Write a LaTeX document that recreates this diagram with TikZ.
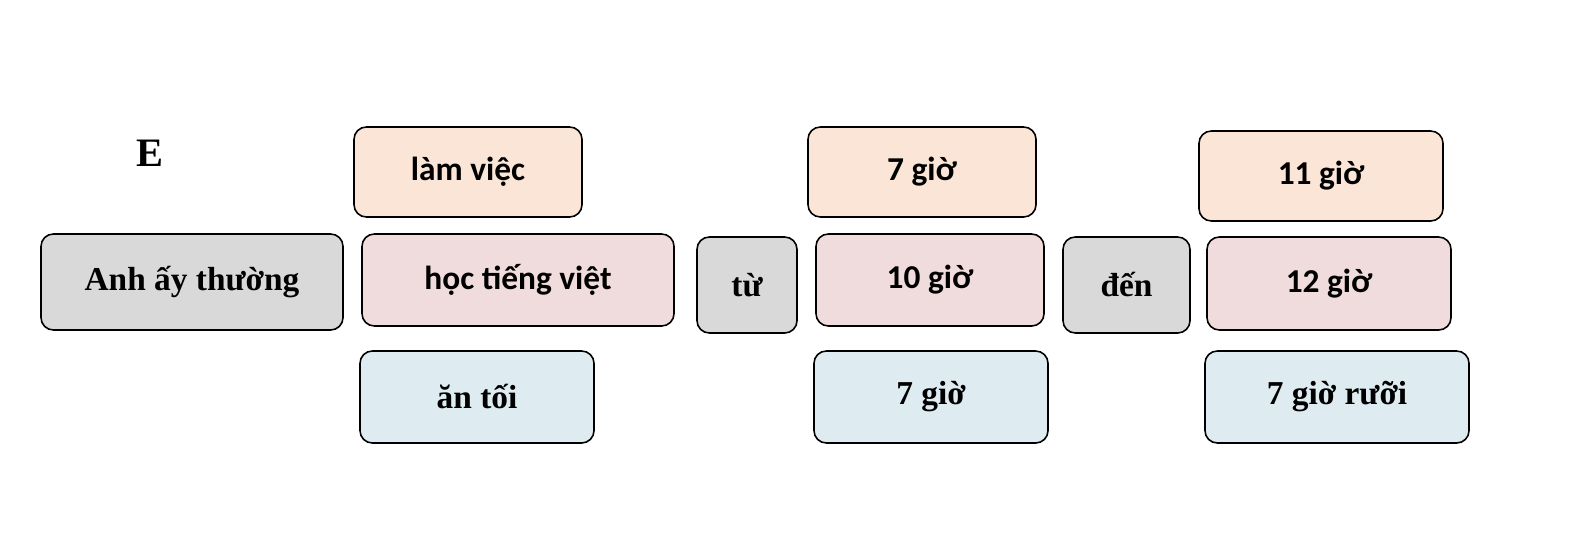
\documentclass[tikz,border=0pt]{standalone}
\usepackage{fontspec}
\setmainfont{Liberation Serif}
\newfontfamily\cali{Carlito}
\usetikzlibrary{positioning}
\definecolor{peach}{HTML}{FBE5D6}
\definecolor{rose}{HTML}{F0DCDC}
\definecolor{sky}{HTML}{DEEBF0}
\definecolor{greybox}{HTML}{D9D9D9}
\tikzset{
  cell/.style={draw=black, rounded corners=7pt, line width=0.9pt, inner sep=0pt},
  serifb/.style={font=\fontsize{19}{22}\selectfont\bfseries},
  sansb/.style={font=\cali\fontsize{19}{22}\selectfont\bfseries}
}
\begin{document}
\begin{tikzpicture}[x=0.02cm,y=-0.02cm]
    \useasboundingbox (0,0) rectangle (1574,554);

    \node[font=\fontsize{23}{26}\selectfont\bfseries] (lbl) at (150,153) {E};

    \foreach \nm/\xa/\ya/\xb/\yb/\col/\sty/\txt in {
      subj/41/234/343/330/greybox/serifb/Anh ấy thường,
      work/354/127/582/217/peach/sansb/làm việc,
      study/362/234/674/326/rose/sansb/học tiếng việt,
      dine/360/351/594/443/sky/serifb/ăn tối,
      from/697/237/797/333/greybox/serifb/từ,
      fa/808/127/1036/217/peach/sansb/7 giờ,
      fb/816/234/1044/326/rose/sansb/10 giờ,
      fc/814/351/1048/443/sky/serifb/7 giờ,
      till/1063/237/1190/333/greybox/serifb/đến,
      ta/1199/131/1443/221/peach/sansb/11 giờ,
      tb/1207/237/1451/330/rose/sansb/12 giờ,
      tc/1205/351/1469/443/sky/serifb/7 giờ rưỡi}
    {
      \draw[cell, fill=\col] (\xa,\ya) rectangle (\xb,\yb);
      \node[\sty] (\nm) at ({(\xa+\xb)/2},{(\ya+\yb)/2}) {\txt};
    }

\end{tikzpicture}
\end{document}
